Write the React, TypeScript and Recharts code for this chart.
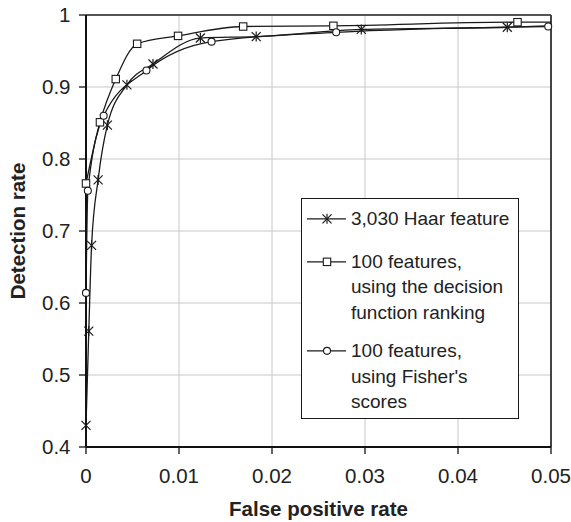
import React from 'react';
import { LineChart, Line, XAxis, YAxis, CartesianGrid, ReferenceLine, Legend } from 'recharts';

const FONT = '"Liberation Sans", Arial, sans-serif';
const INK = '#1a1a1a';

// 3,030 Haar feature
const haarX = [0, 0.0003, 0.0006, 0.0013, 0.0023, 0.0044, 0.0072, 0.0123, 0.0183, 0.0296, 0.0453, 0.05];
const haarY = [0.43, 0.561, 0.68, 0.771, 0.847, 0.903, 0.932, 0.968, 0.97, 0.98, 0.983, 0.985];
// 100 features, decision function ranking
const rankX = [0, 0.0015, 0.0032, 0.0055, 0.0099, 0.0169, 0.0266, 0.0464, 0.05];
const rankY = [0.766, 0.851, 0.911, 0.96, 0.971, 0.984, 0.985, 0.99, 0.99];
// 100 features, Fisher's scores
const fisherX = [0, 0.0002, 0.0019, 0.0065, 0.0135, 0.0269, 0.0497];
const fisherY = [0.614, 0.756, 0.86, 0.923, 0.963, 0.976, 0.984];

const xTicks = [0, 0.01, 0.02, 0.03, 0.04, 0.05];
const yTicks = [0.4, 0.5, 0.6, 0.7, 0.8, 0.9, 1];

const legendLabels = [
  ['3,030 Haar feature'],
  ['100 features,', 'using the decision', 'function ranking'],
  ["100 features,", "using Fisher's", 'scores'],
];

const zip = (xs: number[], ys: number[]) => xs.map((x, i) => ({ x, y: ys[i] }));
const haarData = zip(haarX, haarY);
const rankData = zip(rankX, rankY);
const fisherData = zip(fisherX, fisherY);

type Shape = 'star' | 'square' | 'circle';

const Marker = ({ shape, cx, cy }: { shape: Shape; cx: number; cy: number }) => {
  if (shape === 'star') {
    const r = 4.5;
    return (
      <g stroke={INK} strokeWidth={1.2}>
        <line x1={cx - r} y1={cy - r} x2={cx + r} y2={cy + r} />
        <line x1={cx - r} y1={cy + r} x2={cx + r} y2={cy - r} />
        <line x1={cx} y1={cy - r - 0.5} x2={cx} y2={cy + r + 0.5} />
      </g>
    );
  }
  if (shape === 'square') {
    return <rect x={cx - 3.7} y={cy - 3.7} width={7.4} height={7.4} fill="#fff" stroke={INK} strokeWidth={1.1} />;
  }
  return <circle cx={cx} cy={cy} r={3.5} fill="#fff" stroke={INK} strokeWidth={1.1} />;
};

const makeDot = (shape: Shape, hideAtEdge: boolean) => (props: any) => {
  const { cx, cy, payload, index } = props;
  if (cx == null || cy == null || (hideAtEdge && payload.x >= 0.05)) {
    return <g key={`d-${shape}-${index}`} />;
  }
  return (
    <g key={`d-${shape}-${index}`}>
      <Marker shape={shape} cx={cx} cy={cy} />
    </g>
  );
};

const shapes: Shape[] = ['star', 'square', 'circle'];
const entryMargins = [0, 17, 12];

const LegendBox = () => (
  <div
    style={{
      border: `1px solid ${INK}`,
      background: '#fff',
      width: 218,
      height: 221,
      boxSizing: 'border-box',
      paddingTop: 7,
      fontFamily: FONT,
      fontSize: 19,
      lineHeight: '25.7px',
      color: '#222',
      textAlign: 'left',
    }}
  >
    {legendLabels.map((lines, i) => (
      <div key={i} style={{ display: 'flex', marginTop: entryMargins[i] }}>
        <svg width={48} height={25.7} style={{ flex: 'none', display: 'block' }}>
          <line x1={5} y1={12.85} x2={44} y2={12.85} stroke={INK} strokeWidth={1.2} />
          <Marker shape={shapes[i]} cx={25} cy={12.85} />
        </svg>
        <div style={{ marginLeft: 1, whiteSpace: 'nowrap' }}>
          {lines.map((l, j) => (
            <div key={j}>{l}</div>
          ))}
        </div>
      </div>
    ))}
  </div>
);

const YLabel = (props: any) => {
  const vb = props.viewBox || { x: 0, y: 15, width: 86, height: 432 };
  const cx = 17.5;
  const cy = vb.y + vb.height / 2;
  return (
    <text
      x={cx}
      y={cy}
      transform={`rotate(-90, ${cx}, ${cy})`}
      textAnchor="middle"
      dominantBaseline="central"
      fontFamily={FONT}
      fontSize={20.5}
      fontWeight="bold"
      fill="#222"
    >
      Detection rate
    </text>
  );
};

const XLabel = (props: any) => {
  const vb = props.viewBox || { x: 86, y: 447, width: 465, height: 75 };
  return (
    <text
      x={vb.x + vb.width / 2}
      y={516}
      textAnchor="middle"
      fontFamily={FONT}
      fontSize={20.5}
      fontWeight="bold"
      fill="#222"
    >
      False positive rate
    </text>
  );
};

const tickStyle = { fontFamily: FONT, fontSize: 20.5, fill: '#222' };

export default function App() {
  return (
    <div style={{ position: 'absolute', left: 0, top: 0, background: '#fff' }}>
      <LineChart width={571} height={522} margin={{ top: 15, right: 20, bottom: 0, left: 0 }}>
        <CartesianGrid stroke="#c8c8c8" strokeWidth={1} />
        <XAxis
          type="number"
          dataKey="x"
          domain={[0, 0.05]}
          ticks={xTicks}
          interval={0}
          height={75}
          tick={tickStyle}
          tickSize={7}
          tickMargin={14}
          axisLine={{ stroke: '#111', strokeWidth: 2 }}
          tickLine={{ stroke: '#111', strokeWidth: 1.3 }}
          label={<XLabel />}
        />
        <YAxis
          type="number"
          dataKey="y"
          domain={[0.4, 1]}
          ticks={yTicks}
          interval={0}
          width={86}
          tick={tickStyle}
          tickSize={7}
          tickMargin={8.5}
          axisLine={{ stroke: '#111', strokeWidth: 2 }}
          tickLine={{ stroke: '#111', strokeWidth: 1.3 }}
          label={<YLabel />}
        />
        <ReferenceLine y={1} stroke="#555" strokeWidth={2} />
        <ReferenceLine x={0.05} stroke="#444" strokeWidth={2} />
        <Legend
          layout="vertical"
          align="center"
          verticalAlign="middle"
          content={() => <LegendBox />}
          wrapperStyle={{ left: 301, top: 198, width: 218, height: 221 }}
        />
        <Line
          data={haarData}
          dataKey="y"
          type="monotone"
          stroke={INK}
          strokeWidth={1.3}
          dot={makeDot('star', true)}
          activeDot={false}
          isAnimationActive={false}
          name="3,030 Haar feature"
        />
        <Line
          data={rankData}
          dataKey="y"
          type="monotone"
          stroke={INK}
          strokeWidth={1.3}
          dot={makeDot('square', true)}
          activeDot={false}
          isAnimationActive={false}
          name="100 features, using the decision function ranking"
        />
        <Line
          data={fisherData}
          dataKey="y"
          type="monotone"
          stroke={INK}
          strokeWidth={1.3}
          dot={makeDot('circle', false)}
          activeDot={false}
          isAnimationActive={false}
          name="100 features, using Fisher's scores"
        />
      </LineChart>
    </div>
  );
}
